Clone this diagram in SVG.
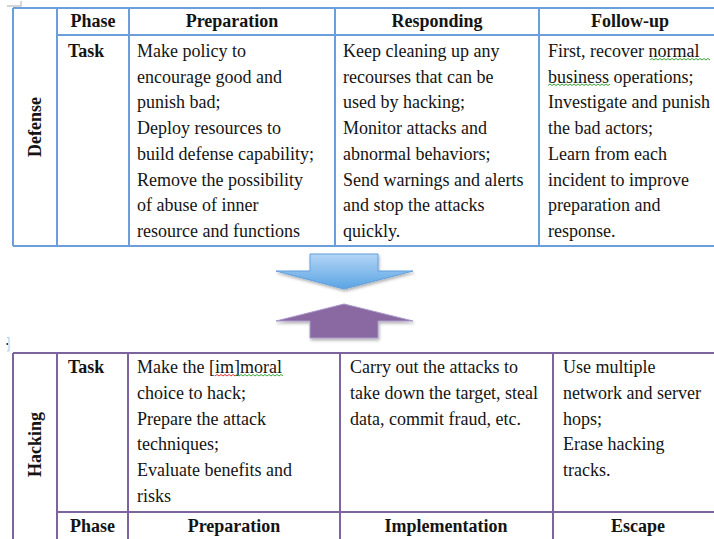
<svg xmlns="http://www.w3.org/2000/svg" width="714" height="539" viewBox="0 0 714 539">
  <defs>
    <linearGradient id="downFill" x1="0" y1="0" x2="0" y2="1">
      <stop offset="0" stop-color="#b3d5f5"/>
      <stop offset="1" stop-color="#5aa4e4"/>
    </linearGradient>
    <filter id="shadow" x="-20%" y="-20%" width="140%" height="160%">
      <feDropShadow dx="1" dy="2" stdDeviation="1.5" flood-color="#000" flood-opacity="0.3"/>
    </filter>
  </defs>
  <style>
    .t { font-family: "Liberation Serif", "Times New Roman", serif; font-size: 18px; fill: #141414; }
    .b { font-weight: bold; }
    .c { text-anchor: middle; }
    .blue { stroke: #6b9fdc; stroke-width: 2; fill: none; }
    .purple { stroke: #7d64a0; stroke-width: 2; fill: none; }
    .sq-g { stroke: #3aa63a; stroke-width: 1; fill: none; }
    .sq-r { stroke: #e03030; stroke-width: 1; fill: none; }
  </style>

  <rect width="714" height="539" fill="#fff"/>

  <!-- page corner marks -->
  <path d="M7 6 H21 V1" stroke="#c8c8c8" stroke-width="1.5" fill="none"/>
  <path d="M7 337.5 H9 V351 H7" stroke="#a8c5ec" stroke-width="1" fill="none"/>
  <rect x="6.5" y="343" width="1.5" height="2" fill="#333"/>

  <!-- Defense table -->
  <g id="defense-table">
    <g class="blue">
      <path d="M13 8 H714 M57 35 H714 M13 246 H714"/>
      <path d="M13 8 V246 M57 8 V246 M129 8 V246 M335 8 V246 M539 8 V246"/>
    </g>
    <g id="defense-label">
      <text class="t b c" transform="translate(41,127) rotate(-90)">Defense</text>
    </g>
    <g id="defense-header" class="t b c">
      <text x="93" y="27">Phase</text>
      <text x="232" y="27">Preparation</text>
      <text x="437" y="27">Responding</text>
      <text x="630" y="27">Follow-up</text>
    </g>
    <text class="t b" x="68" y="57">Task</text>
    <g id="defense-preparation" class="t">
      <text x="137" y="57">Make policy to</text>
      <text x="137" y="82.7">encourage good and</text>
      <text x="137" y="108.4">punish bad;</text>
      <text x="137" y="134.1">Deploy resources to</text>
      <text x="137" y="159.8">build defense capability;</text>
      <text x="137" y="185.5">Remove the possibility</text>
      <text x="137" y="211.2">of abuse of inner</text>
      <text x="137" y="236.9">resource and functions</text>
    </g>
    <g id="defense-responding" class="t">
      <text x="343" y="57">Keep cleaning up any</text>
      <text x="343" y="82.7">recourses that can be</text>
      <text x="343" y="108.4">used by hacking;</text>
      <text x="343" y="134.1">Monitor attacks and</text>
      <text x="343" y="159.8">abnormal behaviors;</text>
      <text x="343" y="185.5">Send warnings and alerts</text>
      <text x="343" y="211.2">and stop the attacks</text>
      <text x="343" y="236.9">quickly.</text>
    </g>
    <g id="defense-followup" class="t">
      <text x="548" y="57">First, recover normal</text>
      <text x="548" y="82.7">business operations;</text>
      <text x="548" y="108.4">Investigate and punish</text>
      <text x="548" y="134.1">the bad actors;</text>
      <text x="548" y="159.8">Learn from each</text>
      <text x="548" y="185.5">incident to improve</text>
      <text x="548" y="211.2">preparation and</text>
      <text x="548" y="236.9">response.</text>
    </g>
    <!-- spell-check underlines -->
    <path class="sq-g" d="M650 60 l2 -1.5 l2 1.5 l2 -1.5 l2 1.5 l2 -1.5 l2 1.5 l2 -1.5 l2 1.5 l2 -1.5 l2 1.5 l2 -1.5 l2 1.5 l2 -1.5 l2 1.5 l2 -1.5 l2 1.5 l2 -1.5 l2 1.5 l2 -1.5 l2 1.5 l2 -1.5 l2 1.5 l2 -1.5 l2 1.5 l2 -1.5 l2 1.5 l2 -1.5 l2 1.5 l2 -1.5 l2 1.5"/>
    <path class="sq-g" d="M548 85.5 l2 -1.5 l2 1.5 l2 -1.5 l2 1.5 l2 -1.5 l2 1.5 l2 -1.5 l2 1.5 l2 -1.5 l2 1.5 l2 -1.5 l2 1.5 l2 -1.5 l2 1.5 l2 -1.5 l2 1.5 l2 -1.5 l2 1.5 l2 -1.5 l2 1.5 l2 -1.5 l2 1.5 l2 -1.5 l2 1.5 l2 -1.5 l2 1.5 l2 -1.5 l2 1.5 l2 -1.5 l2 1.5 l2 -1.5"/>
  </g>

  <!-- Arrows between the tables -->
  <g id="arrows">
    <g id="arrow-down" filter="url(#shadow)">
      <path d="M310 254 H378 V271 H413 L344 289 L276 271 H310 Z" fill="url(#downFill)" stroke="#62a0dc" stroke-width="1"/>
    </g>
    <g id="arrow-up" filter="url(#shadow)">
      <path d="M344 304 L413 321 H378 V338 H310 V321 H276 Z" fill="#8a68a1" stroke="#a899c9" stroke-width="1"/>
    </g>
  </g>

  <!-- Hacking table -->
  <g id="hacking-table">
    <g class="purple">
      <path d="M13 353 H714 M57 512 H714"/>
      <path d="M13 353 V539 M57 353 V539 M128 353 V539 M340 353 V539 M553 353 V539"/>
    </g>
    <g id="hacking-label">
      <text class="t b c" transform="translate(41,444.5) rotate(-90)">Hacking</text>
    </g>
    <text class="t b" x="68" y="373">Task</text>
    <g id="hacking-preparation" class="t">
      <text x="137" y="373">Make the [im]moral</text>
      <text x="137" y="398.8">choice to hack;</text>
      <text x="137" y="424.6">Prepare the attack</text>
      <text x="137" y="450.4">techniques;</text>
      <text x="137" y="476.2">Evaluate benefits and</text>
      <text x="137" y="502">risks</text>
    </g>
    <path class="sq-r" d="M215 376 l2 -1.5 l2 1.5 l2 -1.5 l2 1.5 l2 -1.5 l2 1.5 l2 -1.5 l2 1.5 l2 -1.5 l2 1.5"/>
    <path class="sq-g" d="M235 376 l2 -1.5 l2 1.5 l2 -1.5 l2 1.5 l2 -1.5 l2 1.5 l2 -1.5 l2 1.5 l2 -1.5 l2 1.5 l2 -1.5 l2 1.5 l2 -1.5 l2 1.5 l2 -1.5 l2 1.5 l2 -1.5 l2 1.5 l2 -1.5 l2 1.5 l2 -1.5 l2 1.5 l2 -1.5 l2 1.5"/>
    <g id="hacking-implementation" class="t">
      <text x="350" y="373">Carry out the attacks to</text>
      <text x="350" y="398.8">take down the target, steal</text>
      <text x="350" y="424.6">data, commit fraud, etc.</text>
    </g>
    <g id="hacking-escape" class="t">
      <text x="563" y="373">Use multiple</text>
      <text x="563" y="398.8">network and server</text>
      <text x="563" y="424.6">hops;</text>
      <text x="563" y="450.4">Erase hacking</text>
      <text x="563" y="476.2">tracks.</text>
    </g>
    <g id="hacking-footer" class="t b c">
      <text x="92.5" y="532">Phase</text>
      <text x="234" y="532">Preparation</text>
      <text x="446" y="532">Implementation</text>
      <text x="638" y="532">Escape</text>
    </g>
  </g>
</svg>
